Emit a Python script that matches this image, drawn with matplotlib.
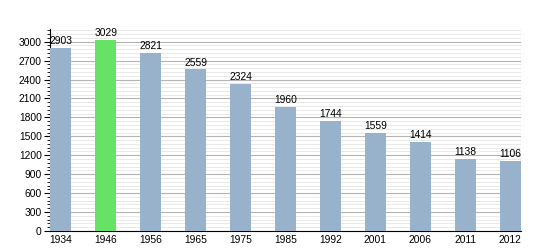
import matplotlib.pyplot as plt
import numpy as np
from matplotlib.ticker import MultipleLocator

plt.rcParams['font.family'] = ['Liberation Sans', 'DejaVu Sans']

years = ['1934', '1946', '1956', '1965', '1975', '1985', '1992', '2001', '2006', '2011', '2012']
population = [2903, 3029, 2821, 2559, 2324, 1960, 1744, 1559, 1414, 1138, 1106]
highlight = '1946'

bar_color = '#98b2cc'
hi_color = '#66e266'

fig = plt.figure(figsize=(5.5, 2.5), dpi=100)
ax = fig.add_axes([50 / 550, 19 / 250, 471 / 550, 202 / 250])

x = np.arange(len(years))
colors = [hi_color if y == highlight else bar_color for y in years]
ax.bar(x, population, width=0.46, color=colors, zorder=3)

# value labels above each bar
for xi, v in zip(x, population):
    ax.text(xi, v + 30, str(v), ha='center', va='bottom', fontsize=7.4, zorder=4)

ax.set_xlim(-0.24, 10.24)
ax.set_ylim(0, 3200)
ax.set_xticks(x)
ax.set_xticklabels(years)
ax.yaxis.set_major_locator(MultipleLocator(300))
ax.yaxis.set_minor_locator(MultipleLocator(60))

ax.grid(axis='y', which='major', color='#b4b4b4', linewidth=0.8, zorder=0)
ax.grid(axis='y', which='minor', color='#e9e9e9', linewidth=0.7, zorder=0)

for s in ['top', 'right']:
    ax.spines[s].set_visible(False)

ax.tick_params(axis='y', which='major', length=4, labelsize=7.4, pad=2)
ax.tick_params(axis='y', which='minor', length=2)
ax.tick_params(axis='x', length=0, labelsize=7.4, pad=3)

fig.savefig('out.png', dpi=100)
